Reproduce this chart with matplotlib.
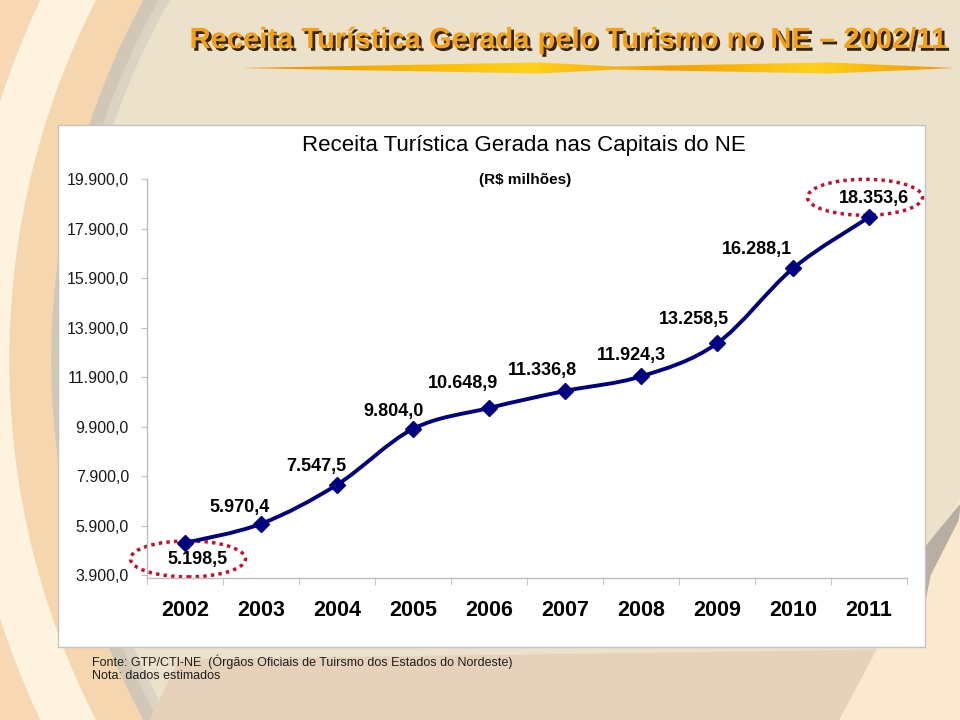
import numpy as np
import matplotlib
matplotlib.use("Agg")
import matplotlib.pyplot as plt
import matplotlib.transforms as mtransforms
import matplotlib.patheffects as pe
from matplotlib.patches import Rectangle, Ellipse, Circle, Polygon, PathPatch
from matplotlib.path import Path
from matplotlib.colors import LinearSegmentedColormap

plt.rcParams['font.family'] = ['Liberation Sans', 'DejaVu Sans']

# Data
anos = ["2002", "2003", "2004", "2005", "2006", "2007", "2008", "2009", "2010", "2011"]
receita = [5198.5, 5970.4, 7547.5, 9804.0, 10648.9, 11336.8, 11924.3, 13258.5, 16288.1, 18353.6]
y_ticks = [3900, 5900, 7900, 9900, 11900, 13900, 15900, 17900, 19900]
destaques = ["2002", "2011"]

titulo = "Receita Turística Gerada pelo Turismo no NE \u2013 2002/11"
titulo_grafico = "Receita Turística Gerada nas Capitais do NE"
unidade = "(R$ milhões)"
fonte = ["Fonte: GTP/CTI-NE  (Órgãos Oficiais de Tuirsmo dos Estados do Nordeste)",
         "Nota: dados estimados"]

# label offsets in pixels (x right, y up) relative to each marker
label_offsets = [(13, -17), (-21, 16), (-21, 18), (-19, 17), (-26, 24),
                 (-23, 20), (-10, 21), (-23, 24), (-36, 19), (5, 19)]
ellipse_offsets = {"2002": (3, -16), "2011": (-4, 20)}


def br(v):
    s = "{:,.1f}".format(v)
    return s.replace(",", "X").replace(".", ",").replace("X", ".")


fig = plt.figure(figsize=(9.6, 7.2), dpi=100)

# ---- background (pixel coordinates) ----
bg = fig.add_axes([0, 0, 1, 1])
bg.set_xlim(0, 960)
bg.set_ylim(720, 0)
bg.axis("off")
bg.add_patch(Rectangle((0, 0), 960, 720, color="#FDF2DC", zorder=0))
rings = [(1000, "#F7D8B2"), (940, "#FDF2DC"), (890, "#F7D8B2"),
         (840, "#FDF3DE"), (790, "#F6D6AE"), (748, "#D2C7B6"), (735, "#DDD3C2"),
         (725, "#ECE1CA")]
for r, c in rings:
    bg.add_patch(Circle((800, 360), r, color=c, zorder=1))
bg.add_patch(Polygon([(150, 720), (180, 660), (900, 650), (880, 720)],
                     color="#E6D2BA", zorder=1))
# page curl bottom right
bg.add_patch(Polygon([(960, 500), (960, 720), (840, 720), (925, 560)],
                     color="#FBE9CF", zorder=2))
bg.add_patch(Polygon([(925, 548), (960, 505), (958, 520), (930, 575), (925, 600)],
                     color="#B9AEA3", zorder=2))

# title underline brush
bx = [242, 540, 615, 830, 955]
bh = [0, 5.5, 1.5, 5.5, 0]
top = [(x, 68 - h) for x, h in zip(bx, bh)]
bot = [(x, 68 + h) for x, h in zip(bx[::-1], bh[::-1])]
brush = Polygon(top + bot, closed=True, facecolor="none", edgecolor="none", zorder=3)
bg.add_patch(brush)
cmap = LinearSegmentedColormap.from_list("brush", ["#F08A00", "#F7B000", "#FFD21A", "#F59E00", "#FFD21A", "#F39400"])
grad = bg.imshow(np.linspace(0, 1, 256).reshape(1, -1), cmap=cmap, aspect="auto",
                 extent=(242, 955, 75, 61), zorder=3)
grad.set_clip_path(brush)
bg.set_xlim(0, 960)
bg.set_ylim(720, 0)

# white panel
bg.add_patch(Rectangle((58, 125), 867, 522, facecolor="white", edgecolor="#C4C4C4", lw=1, zorder=4))

# ---- titles ----
fig.text(568 / 960, 1 - 40 / 720, titulo, ha="center", va="center", fontsize=21,
         weight="bold", color="#F4A012",
         path_effects=[pe.withSimplePatchShadow(offset=(2, -2), shadow_rgbFace="#2B1A05", alpha=0.95)])
fig.text(524 / 960, 1 - 146 / 720, titulo_grafico, ha="center", va="center", fontsize=16, color="black")
fig.text(525 / 960, 1 - 180 / 720, unidade, ha="center", va="center", fontsize=11, weight="bold", color="black")
fig.text(92 / 960, 1 - 662 / 720, fonte[0], ha="left", va="center", fontsize=9, color="#1E1E1E")
fig.text(92 / 960, 1 - 676 / 720, fonte[1], ha="left", va="center", fontsize=9, color="#1E1E1E")

# ---- chart ----
ymin, ymax = 3800, 19900
ax = fig.add_axes([147 / 960, (720 - 577.5) / 720, 760 / 960, 398.5 / 720])
ax.patch.set_alpha(0)
ax.set_xlim(-0.5, len(anos) - 0.5)
ax.set_ylim(ymin, ymax)

xs = np.arange(len(anos))
ys = np.array(receita)

# smoothed line (Catmull-Rom style bezier through the points)
pts = np.column_stack([xs, ys])
verts = [tuple(pts[0])]
codes = [Path.MOVETO]
n = len(pts)
for i in range(n - 1):
    p0 = pts[max(i - 1, 0)]
    p1 = pts[i]
    p2 = pts[i + 1]
    p3 = pts[min(i + 2, n - 1)]
    c1 = p1 + (p2 - p0) / 6.0
    c2 = p2 - (p3 - p1) / 6.0
    verts += [tuple(c1), tuple(c2), tuple(p2)]
    codes += [Path.CURVE4, Path.CURVE4, Path.CURVE4]
ax.add_patch(PathPatch(Path(verts, codes), facecolor="none", edgecolor="#000080", lw=2.8, zorder=3))
ax.plot(xs, ys, "D", color="#000080", ms=8.5, zorder=4, clip_on=False)

for i, v in enumerate(receita):
    ax.annotate(br(v), (xs[i], v), xytext=label_offsets[i], textcoords="offset pixels",
                ha="center", va="center", fontsize=13, weight="bold", color="black", zorder=5)

for i, a in enumerate(anos):
    if a in destaques:
        dx, dy = ellipse_offsets[a]
        tr = mtransforms.ScaledTranslation(xs[i], receita[i], ax.transData)
        e = Ellipse((dx, dy), 115, 36, transform=tr, facecolor="none", edgecolor="#C8102E",
                    lw=2.5, linestyle=(0, (1, 1.2)), zorder=2, clip_on=False)
        ax.add_patch(e)

for s in ["top", "right"]:
    ax.spines[s].set_visible(False)
for s in ["left", "bottom"]:
    ax.spines[s].set_color("#BDBDBD")
    ax.spines[s].set_linewidth(1)

ax.set_yticks(y_ticks)
ax.set_yticklabels([br(t) for t in y_ticks])
ax.tick_params(axis="y", direction="out", length=4, color="#BDBDBD", pad=9, labelsize=11.5, labelcolor="#1A1A1A")

ax.set_xticks(xs)
ax.set_xticklabels(anos)
ax.set_xticks(np.arange(len(anos) + 1) - 0.5, minor=True)
ax.tick_params(axis="x", which="major", length=0, pad=16, labelsize=15.5)
ax.tick_params(axis="x", which="minor", direction="out", length=5, color="#BDBDBD")
for lbl in ax.get_xticklabels():
    lbl.set_fontweight("bold")

fig.savefig("out.png", dpi=100)
